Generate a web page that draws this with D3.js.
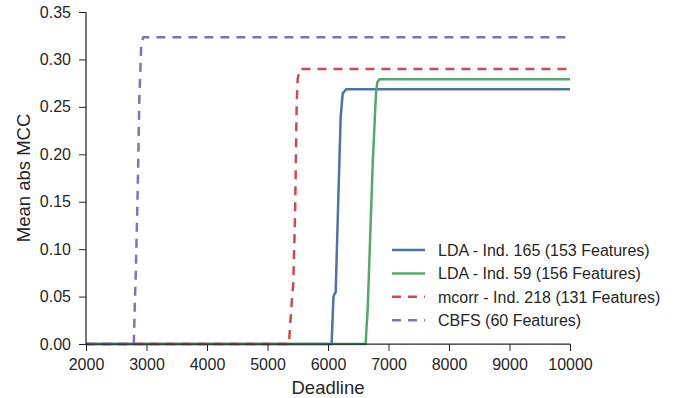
<!DOCTYPE html>
<html>
<head>
<meta charset="utf-8">
<script src="https://cdn.jsdelivr.net/npm/d3@7"></script>
<style>
  body { margin: 0; background: #fff; }
  svg text { font-family: "Liberation Sans", Arial, sans-serif; fill: #262626; }
</style>
</head>
<body>
<script>
// series: [deadline, mean abs MCC]
const seriesNames = [
  'LDA - Ind. 165 (153 Features)',
  'LDA - Ind. 59 (156 Features)',
  'mcorr - Ind. 218 (131 Features)',
  'CBFS (60 Features)'
]
const lda165 = [[2000, 0], [6060, 0], [6090, 0.05], [6127, 0.055], [6170, 0.152], [6210, 0.24], [6243, 0.264], [6300, 0.2685], [10000, 0.2685]]
const lda59 = [[2000, 0], [6622, 0], [6640, 0.02], [6655, 0.035], [6740, 0.192], [6793, 0.264], [6815, 0.276], [6850, 0.279], [10000, 0.279]]
const mcorr = [[2000, 0], [5355, 0], [5375, 0.02], [5400, 0.043], [5426, 0.064], [5455, 0.134], [5483, 0.255], [5500, 0.28], [5537, 0.29], [10000, 0.29]]
const cbfs = [[2000, 0], [2790, 0], [2810, 0.05], [2821, 0.07], [2855, 0.162], [2881, 0.257], [2914, 0.317], [2947, 0.3233], [10000, 0.3233]]
const xTicks = [2000, 3000, 4000, 5000, 6000, 7000, 8000, 9000, 10000]
const yTicks = [0, 0.05, 0.10, 0.15, 0.20, 0.25, 0.30, 0.35]

const colors = ['#4C72B0', '#55A868', '#C44E52', '#8172B2']
const dashes = [null, null, '9,7', '9,7']
const allSeries = [lda165, lda59, mcorr, cbfs]

const W = 678, H = 398
const margin = { top: 12, right: 108, bottom: 54, left: 86 }

const svg = d3.select('body').append('svg')
  .attr('width', W)
  .attr('height', H)

const x = d3.scaleLinear().domain([2000, 10000]).range([margin.left, W - margin.right])
const y = d3.scaleLinear().domain([0, 0.35]).range([H - margin.bottom, margin.top])

// ---------------Lines---------------
const line = d3.line()
  .x(d => x(d[0]))
  .y(d => y(d[1]))

allSeries.forEach((s, i) => {
  svg.append('path')
    .datum(s)
    .attr('fill', 'none')
    .attr('stroke', colors[i])
    .attr('stroke-width', 2.5)
    .attr('stroke-dasharray', dashes[i])
    .attr('d', line)
})

// ---------------Axes---------------
const xAxis = d3.axisBottom(x).tickValues(xTicks).tickSize(7).tickPadding(8).tickFormat(d3.format('d'))
const yAxis = d3.axisLeft(y).tickValues(yTicks).tickSize(7).tickPadding(8).tickFormat(d3.format('.2f'))

const gx = svg.append('g')
  .attr('transform', `translate(0,${H - margin.bottom})`)
  .call(xAxis)
const gy = svg.append('g')
  .attr('transform', `translate(${margin.left},0)`)
  .call(yAxis)

;[gx, gy].forEach(g => {
  g.select('.domain').attr('stroke', '#262626').attr('stroke-width', 1.25)
  g.selectAll('.tick line').attr('stroke', '#262626').attr('stroke-width', 1)
  g.selectAll('.tick text').attr('font-size', 16).attr('fill', '#262626')
    .style('font-family', '"Liberation Sans", Arial, sans-serif')
})
// d3 puts the outer ticks on the domain path; keep it a plain spine
gx.select('.domain').attr('d', `M${x(2000)},0H${x(10000)}`)
gy.select('.domain').attr('d', `M0,${y(0.35)}V${y(0)}`)

svg.append('text')
  .attr('x', (x(2000) + x(10000)) / 2)
  .attr('y', 394)
  .attr('text-anchor', 'middle')
  .attr('font-size', 18.5)
  .text('Deadline')

svg.append('text')
  .attr('transform', `translate(30,${(y(0) + y(0.35)) / 2}) rotate(-90)`)
  .attr('text-anchor', 'middle')
  .attr('font-size', 18.5)
  .text('Mean abs MCC')

// ---------------Legend---------------
const legend = svg.append('g')
  .attr('transform', 'translate(392,250)')

seriesNames.forEach((name, i) => {
  const row = legend.append('g').attr('transform', `translate(0,${i * 23.4})`)
  row.append('line')
    .attr('x1', 0).attr('x2', 33)
    .attr('stroke', colors[i])
    .attr('stroke-width', 2.5)
    .attr('stroke-dasharray', dashes[i])
  row.append('text')
    .attr('x', 46)
    .attr('dy', '0.36em')
    .attr('font-size', 16)
    .text(name)
})
</script>
</body>
</html>
